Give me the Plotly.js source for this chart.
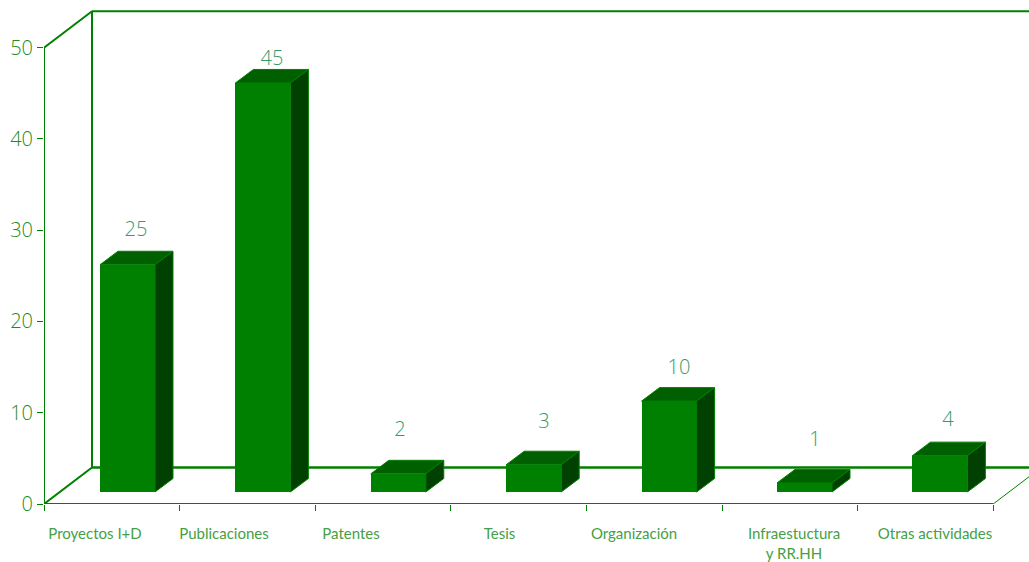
<!DOCTYPE html>
<html>
<head>
<meta charset="utf-8">
<script src="https://cdn.plot.ly/plotly-3.0.1.min.js"></script>
<style>html,body{margin:0;padding:0;background:#fff}#chart{width:1029px;height:562px}</style>
</head>
<body>
<div id="chart"></div>
<script>
var categories = ["Proyectos I+D", "Publicaciones", "Patentes", "Tesis", "Organización", "Infraestuctura<br>y RR.HH", "Otras actividades"];
var values = [25, 45, 2, 3, 10, 1, 4];
var yTicks = [0, 10, 20, 30, 40, 50];

// layout helpers (pixels on the page)
var slotPx = 135.6, unitPx = 9.126, barUnitPx = 9.09;
var left = 44, bottom = 58, top_ = 4, W = 1029, H = 562;
var plotH = H - top_ - bottom;
function xu(px) { return px / slotPx; }
var wallDx = xu(48), wallDy = 36.5 / unitPx;
var barW = xu(55), barDx = xu(18), barDy = 13.5 / barUnitPx;
var barStep = xu(135.4), barStart = xu(127.5 - left);
var labelCentres = [95, 224, 351, 499.5, 634, 794, 935].map(function (p) { return xu(p - left); });
var valueLabelX = [136, 272, 400, 544, 679, 815, 948];
var valueLabelLift = [20, 9, 29, 28, 19, 28, 21];

var barX = values.map(function (v, i) { return barStart + i * barStep; });
var topX = [], topY = [], sideX = [], sideY = [];
values.forEach(function (v, i) {
  var l = barX[i] - barW / 2, r = barX[i] + barW / 2;
  topX.push(l, r, r + barDx, l + barDx, l, null);
  topY.push(v, v, v + barDy, v + barDy, v, null);
  sideX.push(r, r + barDx, r + barDx, r, r, null);
  sideY.push(0, barDy, v + barDy, v, 0, null);
});
var nCat = categories.length, xEnd = (W - left) / slotPx;

var frameX = [0, 0, wallDx, wallDx, xEnd, null, 0, nCat, null, 0, wallDx, xEnd, null];
var frameY = [0, 50, 50 + wallDy, wallDy, wallDy, null, 0, 0, null, 0, wallDy, wallDy, null];
var backTopX = [wallDx, xEnd], backTopY = [50 + wallDy, 50 + wallDy];

var green = "#008000";
var digitFont = "'Open Sans', sans-serif";
var labelFont = "Lato, 'Open Sans', sans-serif";
var traces = [
  { type: "scatter", mode: "lines", x: frameX, y: frameY, xaxis: "x", yaxis: "y",
    line: { color: green, width: 2 }, hoverinfo: "skip", showlegend: false },
  { type: "scatter", mode: "lines", x: backTopX, y: backTopY, xaxis: "x", yaxis: "y",
    line: { color: green, width: 2 }, hoverinfo: "skip", showlegend: false },
  { type: "scatter", mode: "lines", x: [nCat, nCat + wallDx], y: [0, wallDy], xaxis: "x", yaxis: "y",
    line: { color: green, width: 1 }, hoverinfo: "skip", showlegend: false },
  { type: "bar", x: barX, y: values, xaxis: "x", yaxis: "y2", width: barW,
    marker: { color: green, line: { width: 0 } }, showlegend: false },
  { type: "scatter", mode: "lines", x: topX, y: topY, xaxis: "x", yaxis: "y2", fill: "toself",
    fillcolor: "#006000", line: { color: green, width: 1 }, hoverinfo: "skip", showlegend: false },
  { type: "scatter", mode: "lines", x: sideX, y: sideY, xaxis: "x", yaxis: "y2", fill: "toself",
    fillcolor: "#004000", line: { color: green, width: 1 }, hoverinfo: "skip", showlegend: false },
  { type: "scatter", mode: "text",
    x: valueLabelX.map(function (p) { return xu(p - left); }),
    y: values.map(function (v, i) { return v + barDy + valueLabelLift[i] / barUnitPx; }),
    xaxis: "x", yaxis: "y2", text: values.map(String), textposition: "middle center",
    textfont: { family: digitFont, size: 20, color: "#389a6c", weight: 300 },
    hoverinfo: "skip", showlegend: false }
];

var layout = {
  width: W, height: H,
  margin: { l: left, r: 0, t: top_, b: bottom, pad: 0 },
  paper_bgcolor: "#fff", plot_bgcolor: "#fff",
  showlegend: false, bargap: 0,
  xaxis: {
    range: [0, xEnd], showgrid: false, zeroline: false, showline: false, fixedrange: true,
    tickmode: "array", tickvals: labelCentres, ticktext: categories, ticks: "", ticklabelstandoff: 19,
    tickfont: { family: labelFont, size: 15, color: "#45a045" },
    minor: { tickmode: "array", tickvals: [0, 1, 2, 3, 4, 5, 6, 7], ticks: "outside", ticklen: 6, tickwidth: 1, tickcolor: green, showgrid: false }
  },
  yaxis: {
    range: [0, plotH / unitPx], showgrid: false, zeroline: false, showline: false, fixedrange: true,
    tickmode: "array", tickvals: yTicks, ticks: "outside", ticklen: 6, tickwidth: 1, tickcolor: green,
    tickfont: { family: digitFont, size: 20, color: "#1f8c1f", weight: 300 }
  },
  yaxis2: {
    overlaying: "y", visible: false, fixedrange: true,
    range: [-12 / barUnitPx, (plotH - 12) / barUnitPx]
  }
};
Plotly.newPlot("chart", traces, layout, { displayModeBar: false, responsive: false });
</script>
</body>
</html>
